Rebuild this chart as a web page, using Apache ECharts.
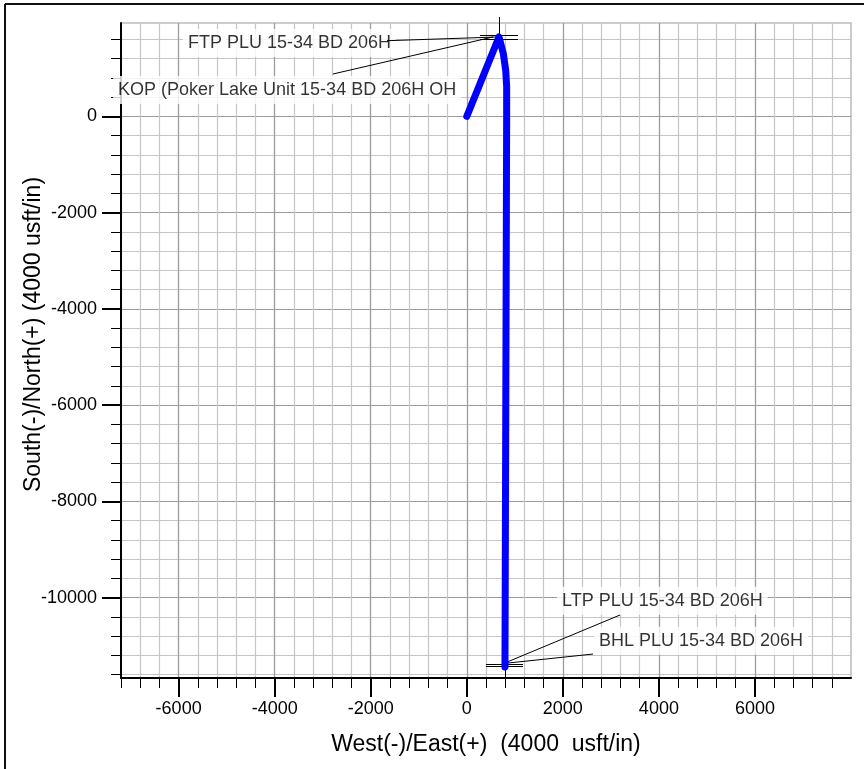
<!DOCTYPE html>
<html><head><meta charset="utf-8">
<script src="https://cdn.jsdelivr.net/npm/echarts@6/dist/echarts.min.js"></script>
<style>html,body{margin:0;padding:0;background:#fff}#c{width:864px;height:769px}</style>
</head><body><div id="c"></div>
<script>
// ---- data ----
const xMajorTicks = [-6000, -4000, -2000, 0, 2000, 4000, 6000];
const yMajorTicks = [-10000, -8000, -6000, -4000, -2000, 0];
const xRange = [-7200, 8000];
const yRange = [-11670, 1940];
const minorStep = 400;

const wellEast  = [0, 670, 760, 810, 830, 830, 815, 795];
const wellNorth = [0, 1650, 1310, 960, 620, 0, -5000, -11440];

const annTexts = ['FTP PLU 15-34 BD 206H', 'KOP (Poker Lake Unit 15-34 BD 206H OH', 'LTP PLU 15-34 BD 206H', 'BHL PLU 15-34 BD 206H'];
const annEast  = [-5909, -7366, 1879, 2649];
const annNorth = [1524, 548, -10064, -10895];

const leaderFromE = [-1661, -2786, 3190, 2628];
const leaderFromN = [1572, 880, -10361, -11172];
const leaderToE   = [629, 546, 858, 858];
const leaderToN   = [1649, 1649, -11331, -11359];

// target marker segments [e1, n1, e2, n2]
const markerSegs = [
  [275, 1691, 1066, 1691],
  [275, 1608, 1066, 1608],
  [670, 1483, 670, 2065],
  [400, -11380, 1171, -11380],
  [400, -11436, 1171, -11436],
  [795, -11200, 795, -11672]
];

// ---- build ----
function steps(a, b, s) { const r = []; for (let v = a; v <= b; v += s) r.push(v); return r; }
const xMinor = steps(-7200, 7600, minorStep);
const yMinor = steps(-11600, 1600, minorStep);

const FONT = '"Liberation Sans", Arial, Helvetica, sans-serif';
const plain = v => String(v);

const chart = echarts.init(document.getElementById('c'), null, {renderer: 'canvas'});

const lineSegs = [];
for (let i = 0; i < leaderFromE.length; i++) {
  lineSegs.push({coords: [[leaderFromE[i], leaderFromN[i]], [leaderToE[i], leaderToN[i]]]});
}
for (const s of markerSegs) lineSegs.push({coords: [[s[0], s[1]], [s[2], s[3]]]});

const labelData = annTexts.map((t, i) => ({name: t, value: [annEast[i], annNorth[i]]}));
const wellData = wellEast.map((e, i) => [e, wellNorth[i]]);

const option = {
  animation: false,
  backgroundColor: '#fff',
  grid: {left: 121, right: 13, top: 23, bottom: 91, show: true, borderColor: '#bcbcbc', borderWidth: 1.5, backgroundColor: 'transparent', outerBoundsMode: 'none', containLabel: false},
  xAxis: [
    {
      type: 'value', min: xRange[0], max: xRange[1], position: 'bottom',
      axisLine: {show: false, onZero: false},
      axisTick: {show: true, customValues: xMinor, length: 10, lineStyle: {color: '#000', width: 1}},
      axisLabel: {show: false},
      splitLine: {show: true, lineStyle: {color: '#c6c6c6', width: 1.2}}
    },
    {
      type: 'value', min: xRange[0], max: xRange[1], position: 'bottom',
      name: 'West(-)/East(+)  (4000  usft/in)', nameLocation: 'middle', nameGap: 55, nameMoveOverlap: false,
      nameTextStyle: {fontFamily: FONT, fontSize: 23, color: '#000'},
      axisLine: {show: true, onZero: false, lineStyle: {color: '#000', width: 2}},
      axisTick: {show: true, customValues: xMajorTicks, length: 19, lineStyle: {color: '#000', width: 2}},
      axisLabel: {show: true, customValues: xMajorTicks, formatter: plain, margin: 22, fontFamily: FONT, fontSize: 18, color: '#000'},
      splitLine: {show: true, lineStyle: {color: '#9c9c9c', width: 1.2}}
    }
  ],
  yAxis: [
    {
      type: 'value', min: yRange[0], max: yRange[1], position: 'left',
      axisLine: {show: false, onZero: false},
      axisTick: {show: true, customValues: yMinor, length: 10, lineStyle: {color: '#000', width: 1}},
      axisLabel: {show: false},
      splitLine: {show: true, lineStyle: {color: '#c6c6c6', width: 1.2}}
    },
    {
      type: 'value', min: yRange[0], max: yRange[1], position: 'left',
      name: 'South(-)/North(+) (4000 usft/in)', nameLocation: 'middle', nameGap: 76, nameMoveOverlap: false,
      nameTextStyle: {fontFamily: FONT, fontSize: 23, color: '#000', padding: [0, 0, 0, 32]},
      axisLine: {show: true, onZero: false, lineStyle: {color: '#000', width: 2}},
      axisTick: {show: true, customValues: yMajorTicks, length: 19, lineStyle: {color: '#000', width: 2}},
      axisLabel: {show: true, customValues: yMajorTicks, formatter: plain, margin: 24, fontFamily: FONT, fontSize: 18, color: '#000'},
      splitLine: {show: true, lineStyle: {color: '#9c9c9c', width: 1.2}}
    }
  ],
  graphic: [
    {type: 'line', shape: {x1: 5, y1: 4, x2: 864, y2: 4}, style: {stroke: '#111', lineWidth: 2}, z: 100},
    {type: 'line', shape: {x1: 5, y1: 4, x2: 5, y2: 769}, style: {stroke: '#111', lineWidth: 2}, z: 100}
  ],
  series: [
    {
      type: 'scatter', xAxisIndex: 1, yAxisIndex: 1, z: 1, clip: false,
      symbolSize: 0, silent: true,
      data: labelData,
      label: {show: true, position: 'right', distance: 0, formatter: '{b}', fontFamily: FONT, fontSize: 18, color: '#000',
        backgroundColor: '#fff', padding: [5, 5, 5, 5]}
    },
    {
      type: 'lines', coordinateSystem: 'cartesian2d', xAxisIndex: 1, yAxisIndex: 1, z: 3, clip: false, silent: true,
      lineStyle: {color: '#000', width: 1, opacity: 1, curveness: 0},
      data: lineSegs
    },
    {
      type: 'line', xAxisIndex: 1, yAxisIndex: 1, z: 5, clip: false, silent: true,
      showSymbol: false, symbol: 'none', smooth: false,
      lineStyle: {color: '#0000ff', width: 7, cap: 'round', join: 'round'},
      data: wellData
    }
  ]
};
chart.setOption(option);
</script>
</body></html>
